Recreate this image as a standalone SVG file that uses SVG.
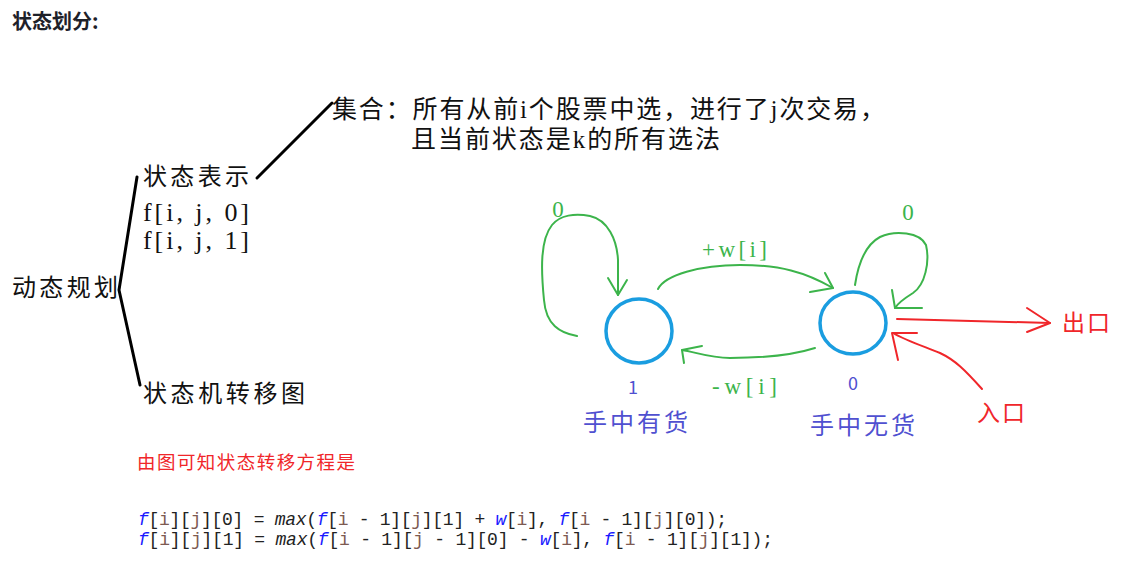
<svg xmlns="http://www.w3.org/2000/svg" width="1139" height="585" viewBox="0 0 1139 585">
<style>
.cn{font-family:"Liberation Serif","Noto Sans CJK SC",serif;fill:#111}
.blk{stroke:#000;stroke-width:3;fill:none;stroke-linecap:round;stroke-linejoin:round}
.g{stroke:#3cb44b;stroke-width:2;fill:none;stroke-linecap:round;stroke-linejoin:round}
.r{stroke:#f0262a;stroke-width:2;fill:none;stroke-linecap:round;stroke-linejoin:round}
.gt{font-family:"Liberation Serif","Noto Sans CJK SC",serif;fill:#3cb44b;font-size:23px}
.bt{font-family:"Noto Sans CJK SC",sans-serif;fill:#5050d0}
.rt{font-family:"Noto Sans CJK SC",sans-serif;fill:#f0262a}
.st{fill:none;stroke:#1a9de0;stroke-width:3.5}
.code{font-family:"Liberation Mono",monospace;font-size:18px;fill:#222}
.fn{fill:#1a1aff;font-style:italic}
.v{fill:#7d5a52}
.it{font-style:italic}
</style>
<rect width="1139" height="585" fill="#fff"/>
<text x="12" y="29" font-family="Noto Sans CJK SC,sans-serif" font-weight="bold" font-size="20" fill="#1e2129">状态划分:</text>

<g id="connectors">
  <path class="blk" d="M137,177 L119,290 L140,385"/>
  <path class="blk" d="M257,178 L332,103"/>
  <path class="g" d="M577,336 C560,333 546,325 544,300 C541,270 540,240 552,225 C560,215 575,213 590,216 C608,220 617,240 618,260 L618,295"/>
  <path class="g" d="M608,278 L618,295 L627,280"/>
  <path class="g" d="M658,289 C665,275 700,265 740,265 C780,265 805,272 833,288"/>
  <path class="g" d="M810,292 L833,288 L825,273"/>
  <path class="g" d="M815,348 C790,356 760,358 730,358 C710,358 695,352 682,350"/>
  <path class="g" d="M702,346 L682,350 L684,363"/>
  <path class="g" d="M855,285 C858,265 865,245 880,237 C895,230 920,232 926,245 C930,262 925,285 913,293 C905,298 898,303 895,308"/>
  <path class="g" d="M892,290 L895,308 L922,308"/>
  <path class="r" d="M897,319 L1050,323"/>
  <path class="r" d="M1027,308 L1050,323 L1027,332"/>
  <path class="r" d="M982,389 C965,370 955,360 940,353 C920,345 905,340 893,333"/>
  <path class="r" d="M917,333 L892,333 L898,360"/>
</g>

<g id="dp"><text class="cn" x="12" y="296" font-size="24" textLength="106" lengthAdjust="spacing">动态规划</text></g>
<g id="repr">
  <text class="cn" x="143" y="185" font-size="24" textLength="106" lengthAdjust="spacing">状态表示</text>
  <text class="cn" x="143" y="221" font-size="26" textLength="106" lengthAdjust="spacing">f[i, j, 0]</text>
  <text class="cn" x="143" y="249" font-size="26" textLength="106" lengthAdjust="spacing">f[i, j, 1]</text>
</g>
<g id="set">
  <text class="cn" x="332" y="118" font-size="25" textLength="553" lengthAdjust="spacing">集合：所有从前i个股票中选，进行了j次交易，</text>
  <text class="cn" x="411" y="148" font-size="25" textLength="309" lengthAdjust="spacing">且当前状态是k的所有选法</text>
</g>
<g id="machine"><text class="cn" x="143" y="402" font-size="24" textLength="162" lengthAdjust="spacing">状态机转移图</text></g>

<g id="state1">
  <ellipse class="st" cx="639" cy="331" rx="33" ry="32"/>
  <text class="bt" x="633" y="394" font-size="18" text-anchor="middle">1</text>
  <text class="bt" x="583" y="431" font-size="24" textLength="105" lengthAdjust="spacing">手中有货</text>
</g>
<g id="state0">
  <ellipse class="st" cx="853" cy="323" rx="33" ry="31"/>
  <text class="bt" x="853" y="390" font-size="18" text-anchor="middle">0</text>
  <text class="bt" x="810" y="434" font-size="24" textLength="105" lengthAdjust="spacing">手中无货</text>
</g>

<g id="labels">
  <text class="gt" x="558" y="217" text-anchor="middle">0</text>
  <text class="gt" x="908" y="220" text-anchor="middle">0</text>
  <text class="gt" x="702" y="257" font-size="25" textLength="65" lengthAdjust="spacing">+w[i]</text>
  <text class="gt" x="712" y="394" font-size="25" textLength="65" lengthAdjust="spacing">-w[i]</text>
  <text class="rt" x="1062" y="331" font-size="23" textLength="48" lengthAdjust="spacing">出口</text>
  <text class="rt" x="977" y="421" font-size="23" textLength="48" lengthAdjust="spacing">入口</text>
</g>

<text class="rt" x="137" y="469" font-size="18.5" textLength="218" lengthAdjust="spacing">由图可知状态转移方程是</text>

<text class="code" x="138" y="525" textLength="589" lengthAdjust="spacing" xml:space="preserve"><tspan class="fn">f</tspan>[<tspan class="v">i</tspan>][<tspan class="v">j</tspan>][0] = <tspan class="it">max</tspan>(<tspan class="fn">f</tspan>[<tspan class="v">i</tspan> - 1][<tspan class="v">j</tspan>][1] + <tspan class="fn">w</tspan>[<tspan class="v">i</tspan>], <tspan class="fn">f</tspan>[<tspan class="v">i</tspan> - 1][<tspan class="v">j</tspan>][0]);</text>
<text class="code" x="138" y="545" textLength="635" lengthAdjust="spacing" xml:space="preserve"><tspan class="fn">f</tspan>[<tspan class="v">i</tspan>][<tspan class="v">j</tspan>][1] = <tspan class="it">max</tspan>(<tspan class="fn">f</tspan>[<tspan class="v">i</tspan> - 1][<tspan class="v">j</tspan> - 1][0] - <tspan class="fn">w</tspan>[<tspan class="v">i</tspan>], <tspan class="fn">f</tspan>[<tspan class="v">i</tspan> - 1][<tspan class="v">j</tspan>][1]);</text>
</svg>
